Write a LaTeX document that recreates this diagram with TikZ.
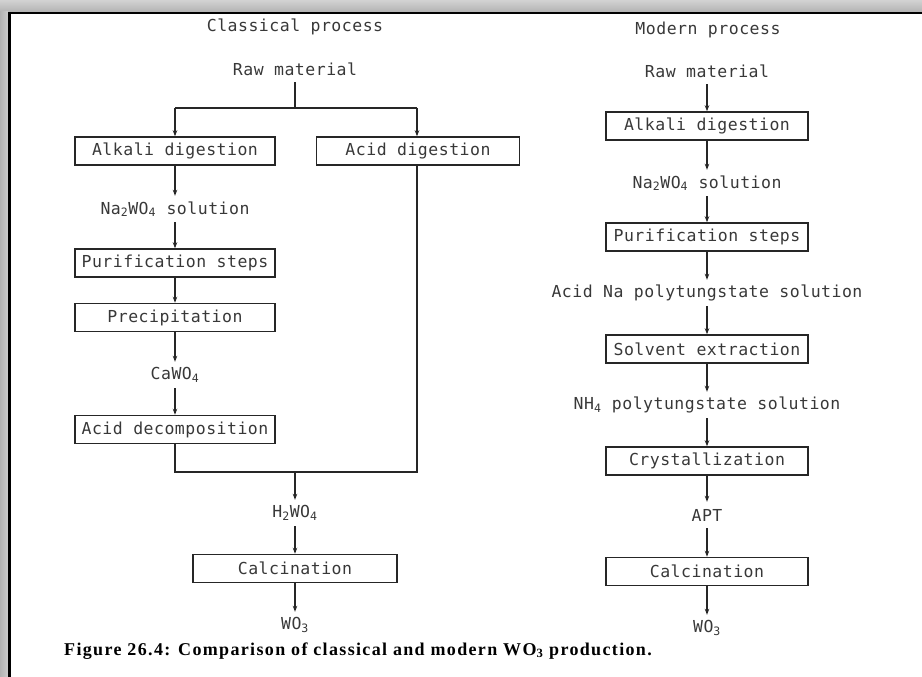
\documentclass[tikz,border=0pt]{standalone}
\usepackage{fontspec}
\usetikzlibrary{arrows.meta}
\newfontfamily\plotfont[LetterSpace=3]{DejaVu Sans Mono}
\newfontfamily\capfont[LetterSpace=7.5]{Liberation Serif}
\tikzset{
  box/.style={draw=black!85, line width=1.5pt, minimum width=200pt, minimum height=28pt, inner sep=0pt,
    font=\plotfont\fontsize{16.5}{18}\selectfont, text=black!78},
  lbl/.style={minimum height=26pt, inner sep=0pt, font=\plotfont\fontsize{16.5}{18}\selectfont, text=black!78},
  flow/.style={draw=black!85, line width=1.1pt, -{Stealth[length=6pt,width=4.5pt]}},
  link/.style={draw=black!85, line width=1.1pt}
}
\begin{document}
\begin{tikzpicture}[x=1pt,y=-1pt]
\useasboundingbox (0,0) rectangle (922,677);
% frame
\shade[top color=gray!35, bottom color=gray!60] (0,0) rectangle (922,12);
\shade[left color=gray!60, right color=gray!40] (0,12) rectangle (8,677);
\draw[black, line width=2.5pt] (8,13.2) -- (922,13.2);
\draw[black, line width=3pt] (9.5,12) -- (9.5,677);

% classical process
\node[lbl] (ctitle) at (295,27) {Classical process};
\node[lbl] (craw) at (295,69) {Raw material};
\coordinate (csplit) at (295,108);
\coordinate (cleft) at (175,108);
\coordinate (cright) at (417,108);
\node[box] (calk) at (175,151) {Alkali digestion};
\node[box, minimum width=203pt] (cacid) at (418,151) {Acid digestion};
\node[lbl] (cna) at (175,209) {Na\textsubscript{2}WO\textsubscript{4} solution};
\node[box] (cpur) at (175,263) {Purification steps};
\node[box] (cpre) at (175,317.5) {Precipitation};
\node[lbl] (ccaw) at (175,375) {CaWO\textsubscript{4}};
\node[box] (cdec) at (175,429.5) {Acid decomposition};
\coordinate (cjl) at (175,472);
\coordinate (cjr) at (417,472);
\coordinate (cjm) at (295,472);
\node[lbl] (ch2) at (295,513) {H\textsubscript{2}WO\textsubscript{4}};
\node[box, minimum width=204pt] (ccal) at (295,568.5) {Calcination};
\node[lbl] (cwo) at (295,625) {WO\textsubscript{3}};

\draw[link] (craw) -- (csplit);
\draw[link] (cleft) -- (cright);
\draw[flow] (cleft) -- (calk.north);
\draw[flow] (cright) -- (cacid.north -| cright);
\draw[flow] (calk) -- (cna);
\draw[flow] (cna) -- (cpur);
\draw[flow] (cpur) -- (cpre);
\draw[flow] (cpre) -- (ccaw);
\draw[flow] (ccaw) -- (cdec);
\draw[link] (cdec.south) -- (cjl) -- (cjr) -- (cacid.south -| cjr);
\draw[flow] (cjm) -- (ch2);
\draw[flow] (ch2) -- (ccal);
\draw[flow] (ccal) -- (cwo);

% modern process
\node[lbl] (mtitle) at (708,30) {Modern process};
\node[lbl] (mraw) at (707,71) {Raw material};
\node[box, minimum width=202pt] (malk) at (707,126) {Alkali digestion};
\node[lbl] (mna) at (707,183) {Na\textsubscript{2}WO\textsubscript{4} solution};
\node[box, minimum width=202pt] (mpur) at (707,237) {Purification steps};
\node[lbl] (macid) at (707,293) {Acid Na polytungstate solution};
\node[box, minimum width=202pt] (msol) at (707,349) {Solvent extraction};
\node[lbl] (mnh) at (707,405) {NH\textsubscript{4} polytungstate solution};
\node[box, minimum width=202pt] (mcry) at (707,461) {Crystallization};
\node[lbl] (mapt) at (707,515) {APT};
\node[box, minimum width=202pt] (mcal) at (707,571.5) {Calcination};
\node[lbl] (mwo) at (707,628) {WO\textsubscript{3}};

\draw[flow] (mraw) -- (malk);
\draw[flow] (malk) -- (mna);
\draw[flow] (mna) -- (mpur);
\draw[flow] (mpur) -- (macid);
\draw[flow] (macid) -- (msol);
\draw[flow] (msol) -- (mnh);
\draw[flow] (mnh) -- (mcry);
\draw[flow] (mcry) -- (mapt);
\draw[flow] (mapt) -- (mcal);
\draw[flow] (mcal) -- (mwo);

% caption
\node[anchor=west, inner sep=0pt, font=\capfont\bfseries\fontsize{18}{20}\selectfont] (cap) at (64,651)
  {Figure 26.4: Comparison of classical and modern WO\textsubscript{3} production.};
\end{tikzpicture}
\end{document}
